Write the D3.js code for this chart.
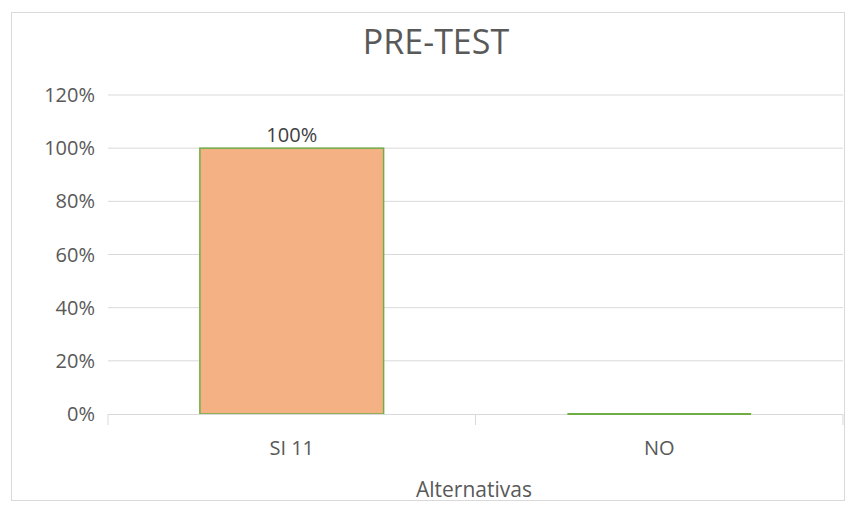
<!DOCTYPE html>
<html><head><meta charset="utf-8">
<script src="https://cdn.jsdelivr.net/npm/d3@7"></script>
<style>body{margin:0;background:#fff;} text{font-family:"Open Sans","Noto Sans",sans-serif;}</style>
</head><body>
<svg id="c" width="847" height="505"></svg>
<script>
const categories = ["SI 11", "NO"];
const values = [1.0, 0.0];
const dataLabels = ["100%"];
const yTicks = [0, 0.2, 0.4, 0.6, 0.8, 1.0, 1.2];
const title = "PRE-TEST";
const xTitle = "Alternativas";

const svg = d3.select("#c");
const m = {left:108, right:843, top:95, bottom:414};
// chart frame
svg.append("rect").attr("x",11.5).attr("y",12.5).attr("width",833).attr("height",488)
  .attr("fill","#fff").attr("stroke","#d9d9d9").attr("stroke-width",1);

const x = d3.scaleBand().domain(categories).range([m.left,m.right]).paddingInner(0.5).paddingOuter(0.25);
const xb = d3.scaleBand().domain(categories).range([m.left,m.right]);
const y = d3.scaleLinear().domain([0,1.2]).range([m.bottom,m.top]);

// gridlines
svg.append("g").selectAll("line").data(yTicks.filter(d=>d>0)).join("line")
  .attr("x1",m.left).attr("x2",m.right).attr("y1",d=>y(d)).attr("y2",d=>y(d))
  .attr("stroke","#d9d9d9").attr("stroke-width",1);

// y labels
svg.append("g").selectAll("text").data(yTicks).join("text")
  .attr("x",95).attr("y",d=>y(d)).attr("dy","0.35em").attr("text-anchor","end")
  .attr("fill","#595959").attr("font-size",20).text(d=>d3.format(".0%")(d));

// bars
svg.append("g").selectAll("rect").data(categories).join("rect")
  .attr("x",d=>x(d)).attr("width",x.bandwidth())
  .attr("y",(d,i)=>y(values[i])).attr("height",(d,i)=>y(0)-y(values[i]))
  .attr("fill","#F4B183").attr("stroke","#70AD47").attr("stroke-width",1.5);

// x axis line and ticks
svg.append("line").attr("x1",m.left).attr("x2",m.right).attr("y1",m.bottom+0.5).attr("y2",m.bottom+0.5)
  .attr("stroke","#d9d9d9");
const tickXs = categories.map(c=>xb(c)).concat([m.right]);
svg.append("g").selectAll("line").data(tickXs).join("line")
  .attr("x1",d=>d).attr("x2",d=>d).attr("y1",m.bottom).attr("y2",m.bottom+11)
  .attr("stroke","#d9d9d9");
// zero-height bar outline drawn over the axis
svg.append("g").selectAll("line").data(categories.filter((c,i)=>values[i]===0)).join("line")
  .attr("x1",d=>x(d)).attr("x2",d=>x(d)+x.bandwidth()).attr("y1",y(0)).attr("y2",y(0))
  .attr("stroke","#70AD47").attr("stroke-width",2);

// category labels
svg.append("g").selectAll("text").data(categories).join("text")
  .attr("x",d=>x(d)+x.bandwidth()/2).attr("y",455).attr("text-anchor","middle")
  .attr("fill","#595959").attr("font-size",20).text(d=>d);

// data labels
svg.append("g").selectAll("text").data(dataLabels).join("text")
  .attr("x",(d,i)=>x(categories[i])+x.bandwidth()/2).attr("y",(d,i)=>y(values[i])-6)
  .attr("text-anchor","middle").attr("fill","#404040").attr("font-size",20).text(d=>d);

// title
svg.append("text").attr("x",436).attr("y",54).attr("text-anchor","middle")
  .attr("fill","#595959").attr("font-size",34).text(title);

// x title
svg.append("text").attr("x",474).attr("y",497).attr("text-anchor","middle")
  .attr("fill","#595959").attr("font-size",21).text(xTitle);
</script>
</body></html>
